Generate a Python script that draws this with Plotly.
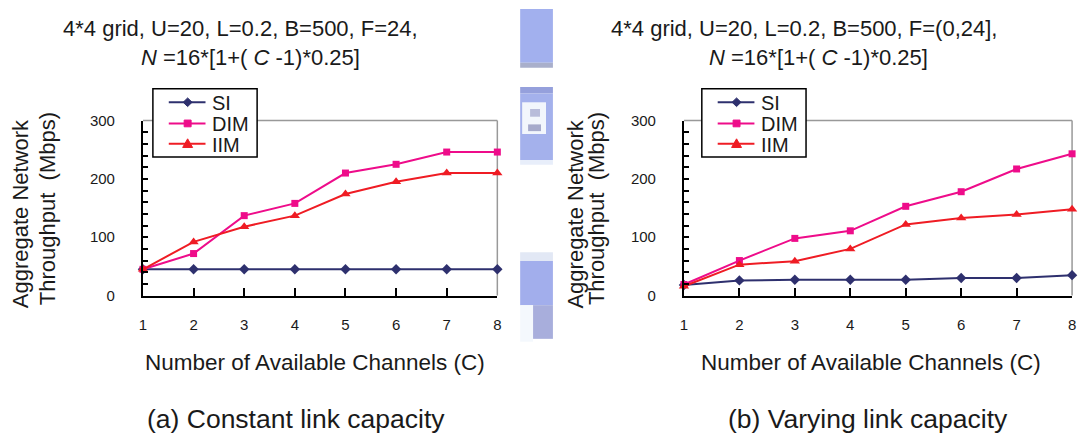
import plotly.graph_objects as go

# ---- data ----
channels = [1, 2, 3, 4, 5, 6, 7, 8]
x_ticks = [1, 2, 3, 4, 5, 6, 7, 8]
y_ticks = [0, 100, 200, 300]

si_a = [45, 45, 45, 45, 45, 45, 45, 45]
dim_a = [45, 72, 137, 158, 210, 225, 246, 246]
iim_a = [45, 92, 118, 137, 174, 195, 210, 210]

si_b = [18, 26, 27, 27, 27, 30, 30, 35]
dim_b = [19, 60, 98, 111, 153, 178, 217, 243]
iim_b = [16, 53, 59, 80, 122, 133, 139, 148]

series_names = ["SI", "DIM", "IIM"]
colors = {"SI": "#2E306E", "DIM": "#EE0C8A", "IIM": "#EF1C24"}
symbols = {"SI": "diamond", "DIM": "square", "IIM": "triangle-up"}
msizes = {"SI": 8, "DIM": 7, "IIM": 9}

W, H = 1085, 443
FONT = "Liberation Sans, Arial, sans-serif"
TXT = "#1a1a1a"


def px(x):
    return x / W


def py(y):
    return 1 - y / H


fig = go.Figure()

panels = [
    ("x", "y", [si_a, dim_a, iim_a]),
    ("x2", "y2", [si_b, dim_b, iim_b]),
]
for xa, ya, vals in panels:
    for name, v in zip(series_names, vals):
        fig.add_trace(go.Scatter(
            x=channels, y=v, name=name, mode="lines+markers",
            xaxis=xa, yaxis=ya, cliponaxis=False, showlegend=False,
            line=dict(color=colors[name], width=2),
            marker=dict(symbol=symbols[name], size=msizes[name], color=colors[name]),
        ))

xdoms = [[px(140), px(497)], [px(685), px(1076)]]
ydom = [py(298), py(116)]

axis_common_x = dict(
    range=[1, 8], tickvals=x_ticks, ticks="inside", ticklen=8, tickwidth=1.5,
    tickcolor="black", showline=True, linecolor="black", linewidth=2,
    showgrid=False, zeroline=False, ticklabelstandoff=14,
    tickfont=dict(family=FONT, size=15, color=TXT),
)
axis_common_y = dict(
    range=[0, 300], tickvals=y_ticks, ticks="inside", ticklen=5, tickwidth=1.5,
    tickcolor="black", showline=True, linecolor="black", linewidth=2,
    showgrid=False, zeroline=False, ticklabelstandoff=23,
    minor=dict(ticks="inside", dtick=20, ticklen=5, tickwidth=1.5, tickcolor="black", showgrid=False),
    tickfont=dict(family=FONT, size=15, color=TXT),
)

fig.update_layout(
    width=W, height=H, margin=dict(l=0, r=0, t=0, b=0),
    paper_bgcolor="white", plot_bgcolor="white",
    font=dict(family=FONT, color=TXT),
    xaxis=dict(domain=xdoms[0], anchor="y", **axis_common_x),
    yaxis=dict(domain=ydom, anchor="x", **axis_common_y),
    xaxis2=dict(domain=xdoms[1], anchor="y2", **axis_common_x),
    yaxis2=dict(domain=ydom, anchor="x2", **axis_common_y),
    showlegend=False,
)

shapes = []
ann = []

# gray top/right frame
for xr, yr in [("x domain", "y domain"), ("x2 domain", "y2 domain")]:
    shapes.append(dict(type="line", xref=xr, yref=yr, x0=0, x1=1, y0=1, y1=1,
                       line=dict(color="#999999", width=1.5), layer="below"))
    shapes.append(dict(type="line", xref=xr, yref=yr, x0=1, x1=1, y0=0, y1=1,
                       line=dict(color="#999999", width=1.5), layer="below"))


# pixelated strip between panels (scan artifact)
def rect(x0, y0, x1, y1, c):
    shapes.append(dict(type="rect", xref="paper", yref="paper",
                       x0=px(x0), x1=px(x1), y0=py(y1), y1=py(y0),
                       fillcolor=c, line=dict(width=0), layer="below"))


rect(520, 0, 553, 56, "#A2B0EE")
rect(520, 56, 553, 61, "#A9AFCB")
rect(520, 81, 553, 88, "#95A0DC")
rect(520, 88, 553, 157, "#A4B1EC")
rect(522, 97, 546, 130, "#F2F6FC")
rect(530, 104, 540, 112, "#B8BCDA")
rect(528, 120, 541, 127, "#A6AACB")
rect(520, 157, 553, 162, "#E8EEFA")
rect(520, 253, 553, 262, "#E2E8F5")
rect(520, 262, 553, 308, "#A2AEEC")
rect(520, 308, 533, 346, "#F4F8FD")
rect(533, 308, 553, 343, "#A8AEDC")


def text(x, y, s, size, angle=0, xanchor="center"):
    ann.append(dict(x=px(x), y=py(y), xref="paper", yref="paper", text=s,
                    showarrow=False, xanchor=xanchor, yanchor="middle",
                    textangle=angle, font=dict(family=FONT, size=size, color=TXT)))


# legends (one boxed key per panel)
def marker_path(sym, cx, cy):
    if sym == "diamond":
        r = 4.5
        pts = [(cx, cy - r), (cx + r, cy), (cx, cy + r), (cx - r, cy)]
    elif sym == "square":
        r = 3.5
        pts = [(cx - r, cy - r), (cx + r, cy - r), (cx + r, cy + r), (cx - r, cy + r)]
    else:
        r = 5
        pts = [(cx, cy - r), (cx + r, cy + r * 0.8), (cx - r, cy + r * 0.8)]
    return "M " + " L ".join(f"{px(a):.6f},{py(b):.6f}" for a, b in pts) + " Z"


for bx in [150, 703]:
    shapes.append(dict(type="rect", xref="paper", yref="paper",
                       x0=px(bx), x1=px(bx + 105), y0=py(154), y1=py(83),
                       fillcolor="white", line=dict(color="black", width=1.5),
                       layer="above"))
    for name, ry in zip(series_names, [97, 119, 140]):
        c = colors[name]
        shapes.append(dict(type="line", xref="paper", yref="paper",
                           x0=px(bx + 16), x1=px(bx + 53), y0=py(ry), y1=py(ry),
                           line=dict(color=c, width=2), layer="above"))
        shapes.append(dict(type="path", xref="paper", yref="paper",
                           path=marker_path(symbols[name], bx + 35, ry),
                           fillcolor=c, line=dict(color=c, width=1), layer="above"))
        text(bx + 58, ry + 1, name, 20, xanchor="left")

# titles
text(238, 20, "4*4 grid, U=20, L=0.2, B=500, F=24,", 22)
text(248, 50, "<i>N</i> =16*[1+( <i>C</i> -1)*0.25]", 22)
text(806, 20, "4*4 grid, U=20, L=0.2, B=500, F=(0,24],", 22)
text(821, 50, "<i>N</i> =16*[1+( <i>C</i> -1)*0.25]", 22)

# axis titles
text(313, 368, "Number of Available Channels (C)", 22.5)
text(873, 368, "Number of Available Channels (C)", 22.5)
text(16.5, 213, "Aggregate Network", 22, -90)
text(43.5, 208, "Throughput\u00a0 (Mbps)", 22, -90)
text(576, 213, "Aggregate Network", 22, -90)
text(596.5, 208, "Throughput\u00a0 (Mbps)", 22, -90)

# captions
text(294, 426, "(a) Constant link capacity", 26.5)
text(870, 426, "(b) Varying link capacity", 26.5)

fig.update_layout(annotations=ann, shapes=shapes)

fig.write_html("out.html")
